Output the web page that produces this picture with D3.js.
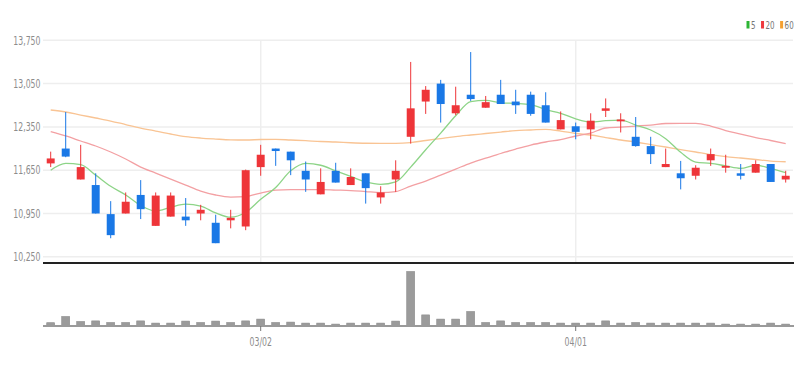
<!DOCTYPE html>
<html>
<head>
<meta charset="utf-8">
<script src="https://cdn.jsdelivr.net/npm/d3@7"></script>
<style>
  html, body { margin: 0; padding: 0; background: #fff; }
  svg text { font-family: "Liberation Sans Narrow", "DejaVu Sans Condensed", sans-serif; }
</style>
</head>
<body>
<div id="chart"></div>
<script>
// trading days (KRX, 2022)
const dates = [
  '02/09','02/10','02/11','02/14','02/15','02/16','02/17','02/18','02/21','02/22',
  '02/23','02/24','02/25','02/28','03/02','03/03','03/04','03/07','03/08','03/10',
  '03/11','03/14','03/15','03/16','03/17','03/18','03/21','03/22','03/23','03/24',
  '03/25','03/28','03/29','03/30','03/31','04/01','04/04','04/05','04/06','04/07',
  '04/08','04/11','04/12','04/13','04/14','04/15','04/18','04/19','04/20','04/21'
]
const open = [
  11760,12000,11500,11410,10940,10950,11250,10750,10900,10900,
  10950,10800,10840,10740,11700,12000,11950,11640,11260,11640,
  11410,11600,11210,11500,12190,12760,13050,12570,12870,12660,
  12870,12760,12870,12700,12310,12360,12310,12610,12440,12190,
  12040,11700,11600,11560,11810,11690,11600,11610,11750,11500
]
const high = [
  11950,12590,12060,11600,11150,11290,11490,11290,11290,11200,
  11090,10930,11010,11660,12060,12000,11950,11790,11680,11770,
  11680,11600,11390,11810,13400,13010,13110,13000,13560,12850,
  13110,12950,12920,12910,12600,12420,12570,12810,12570,12510,
  12190,12000,11800,11730,12000,11900,11750,11810,11750,11640
]
const low = [
  11700,11860,11500,10950,10550,10950,10860,10750,10900,10750,
  10840,10470,10710,10680,11560,11720,11570,11300,11260,11450,
  11410,11110,11110,11300,12080,12560,12420,12540,12770,12660,
  12720,12560,12530,12420,12310,12150,12150,12510,12260,12030,
  11750,11700,11340,11500,11720,11610,11500,11610,11460,11450
]
const close = [
  11840,11870,11700,10950,10600,11140,11020,11240,11240,10840,
  11010,10470,10880,11650,11900,11960,11810,11500,11460,11450,
  11540,11360,11290,11640,12650,12950,12720,12700,12800,12750,
  12720,12700,12560,12420,12460,12270,12450,12650,12470,12040,
  11910,11750,11520,11690,11910,11720,11560,11750,11460,11560
]
const volume = [
  70000,225000,100000,115000,75000,75000,115000,60000,60000,110000,
  75000,110000,75000,115000,160000,75000,85000,60000,60000,35000,
  60000,60000,60000,110000,1350000,265000,160000,160000,350000,75000,
  115000,75000,75000,75000,60000,60000,60000,115000,60000,75000,
  60000,60000,60000,60000,60000,35000,35000,35000,60000,35000
]
const ma5 = [
  11650,11760,11740,11570,11390,11250,11080,10990,11050,11100,
  11070,10960,10890,10970,11180,11370,11640,11760,11730,11640,
  11550,11460,11420,11460,11700,11980,12250,12530,12760,12780,
  12740,12730,12710,12630,12570,12480,12430,12450,12460,12380,
  12300,12160,11940,11780,11760,11720,11680,11730,11680,11610
]
const ma20 = [
  12275,12203,12122,12041,11944,11831,11701,11604,11507,11410,
  11313,11249,11216,11224,11281,11329,11337,11337,11337,11329,
  11321,11305,11289,11305,11394,11475,11572,11669,11766,11847,
  11920,11992,12057,12106,12146,12203,12251,12332,12348,12364,
  12380,12405,12408,12408,12364,12291,12235,12178,12130,12081
]
const ma60 = [
  12623,12591,12542,12494,12445,12388,12332,12283,12235,12194,
  12170,12154,12141,12138,12146,12149,12138,12127,12114,12106,
  12094,12086,12084,12084,12097,12130,12162,12194,12219,12243,
  12267,12291,12300,12311,12283,12243,12219,12178,12138,12106,
  12065,12025,11984,11944,11903,11871,11847,11823,11798,11787
]
const priceTicks = [10250, 10950, 11650, 12350, 13050, 13750]
const dateTicks = ['03/02', '04/01']
const maNames = ['5', '20', '60']

const W = 812, H = 366
const upColor = '#ee3539', downColor = '#1a78e6'
const maColors = ['#8dd487', '#f3a0a3', '#f9c494']
const legendColors = ['#2cb534', '#ef3a3e', '#f5a030']
const squeeze = 0.72 // the original uses a condensed face

const svg = d3.select('#chart').append('svg')
  .attr('width', W).attr('height', H)

const x = d3.scaleBand()
  .domain(dates)
  .range([43.2, 793.2])
  .paddingInner(0.47)
  .paddingOuter(0.235)
const cx = d => x(d) + x.bandwidth() / 2

const y = d3.scaleLinear().domain([10250, 13750]).range([256.8, 40.3])
const yv = d3.scaleLinear().domain([0, d3.max(volume)]).range([325.5, 271.5])

// grid
const grid = svg.append('g')
grid.selectAll('line.h').data(priceTicks).join('line')
  .attr('x1', 43).attr('x2', 793)
  .attr('y1', d => y(d)).attr('y2', d => y(d))
  .attr('stroke', '#eeeeee').attr('stroke-width', 1.5)
grid.selectAll('line.v').data(dateTicks).join('line')
  .attr('x1', d => cx(d)).attr('x2', d => cx(d))
  .attr('y1', 40).attr('y2', 262)
  .attr('stroke', '#eeeeee').attr('stroke-width', 1.5)

// y labels
svg.append('g').selectAll('text').data(priceTicks).join('text')
  .attr('transform', d => `translate(40.5,${y(d)}) scale(${squeeze},1)`)
  .attr('dy', '0.35em')
  .attr('text-anchor', 'end')
  .attr('font-size', '12px')
  .attr('fill', '#8c8c8c')
  .text(d => d3.format(',')(d))

// moving averages
const maSeries = [ma5, ma20, ma60]
const lineGen = d3.line()
  .x((d, i) => cx(dates[i]))
  .y(d => y(d))
  .curve(d3.curveMonotoneX)
svg.append('g').selectAll('path').data(maSeries.slice().reverse()).join('path')
  .attr('d', lineGen)
  .attr('fill', 'none')
  .attr('stroke', (d, i) => maColors[2 - i])
  .attr('stroke-width', 1.3)

// candles
const candles = svg.append('g').selectAll('g').data(dates).join('g')
  .attr('class', 'candle')
candles.append('line')
  .attr('x1', d => cx(d)).attr('x2', d => cx(d))
  .attr('y1', (d, i) => y(high[i]))
  .attr('y2', (d, i) => y(low[i]))
  .attr('stroke', (d, i) => close[i] >= open[i] ? upColor : downColor)
  .attr('stroke-width', 1)
candles.append('rect')
  .attr('x', d => x(d))
  .attr('width', x.bandwidth())
  .attr('y', (d, i) => y(Math.max(open[i], close[i])))
  .attr('height', (d, i) => Math.max(1.5, Math.abs(y(open[i]) - y(close[i]))))
  .attr('fill', (d, i) => close[i] >= open[i] ? upColor : downColor)

// separator under the price panel
svg.append('line')
  .attr('x1', 43).attr('x2', 794)
  .attr('y1', 263).attr('y2', 263)
  .attr('stroke', '#222').attr('stroke-width', 2)

// volume
svg.append('g').selectAll('rect').data(volume).join('rect')
  .attr('x', (d, i) => x(dates[i]))
  .attr('width', x.bandwidth())
  .attr('y', d => yv(d))
  .attr('height', d => yv(0) - yv(d))
  .attr('fill', '#9b9b9b')
  .attr('stroke', '#8a8a8a')
  .attr('stroke-width', 0.6)

svg.append('line')
  .attr('x1', 43).attr('x2', 794)
  .attr('y1', 326).attr('y2', 326)
  .attr('stroke', '#9a9a9a').attr('stroke-width', 2)

// x axis ticks
const xt = svg.append('g').selectAll('g').data(dateTicks).join('g')
xt.append('line')
  .attr('x1', d => cx(d)).attr('x2', d => cx(d))
  .attr('y1', 326).attr('y2', 331)
  .attr('stroke', '#777')
xt.append('text')
  .attr('transform', d => `translate(${cx(d)},341.5) scale(${squeeze},1)`)
  .attr('dy', '0.35em')
  .attr('text-anchor', 'middle')
  .attr('font-size', '12px')
  .attr('fill', '#8c8c8c')
  .text(d => d)

// legend
const legend = svg.append('g').attr('transform', 'translate(746.5,21)')
let lx = 0
maNames.forEach((name, i) => {
  legend.append('rect')
    .attr('x', lx).attr('y', 0)
    .attr('width', 3).attr('height', 7.5)
    .attr('fill', legendColors[i])
  const t = legend.append('text')
    .attr('transform', `translate(${lx + 4.5},4) scale(${squeeze},1)`)
    .attr('dy', '0.35em')
    .attr('font-size', '11px')
    .attr('fill', '#777')
    .text(name)
  lx += 4.5 + t.node().getComputedTextLength() * squeeze + 5.5
})
</script>
</body>
</html>
